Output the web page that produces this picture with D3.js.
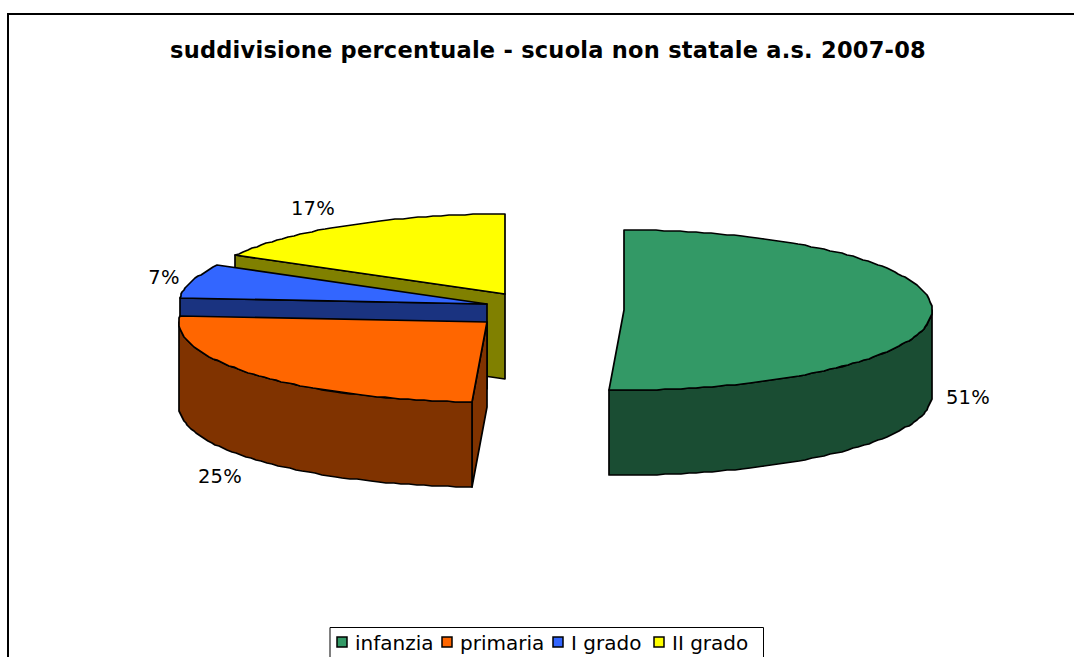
<!DOCTYPE html>
<html>
<head>
<meta charset="utf-8">
<script src="https://cdn.jsdelivr.net/npm/d3@7"></script>
<style>
    html, body { margin: 0; padding: 0; background: #fff; overflow: hidden; }
    text { font-family: "DejaVu Sans", sans-serif; fill: #000; }
    .title { font-size: 22.5px; font-weight: bold; text-anchor: middle; letter-spacing: 0.25px; }
    .pct { font-size: 19.5px; text-anchor: middle; letter-spacing: 0.3px; }
    .legend-label { font-size: 20px; }
</style>
</head>
<body>
<div id="chart"></div>
<script>
    'use strict';

    const categories = ['infanzia', 'primaria', 'I grado', 'II grado'];
    const percentages = [50.8, 25.4, 6.8, 17];
    const colors = ['#339966', '#ff6600', '#3366ff', '#ffff00'];

    const width = 1074;
    const height = 657;

    // ellisse della torta e spessore
    const rx = 308;
    const ry = 80;
    const depth = 85;

    // centro di ogni fetta esplosa
    const centers = [[624, 310], [487, 322], [487, 304], [505, 294]];
    // posizione delle etichette percentuali
    const labelPos = [[968, 404], [220, 483], [164, 284], [313, 215]];

    const svg = d3.select('#chart').append('svg').attr('width', width).attr('height', height);

    // cornice, aperta in basso e a destra perche' tagliata dall'immagine
    svg.append('path')
        .attr('d', 'M8,' + height + 'V14H' + width)
        .attr('fill', 'none').attr('stroke', '#000').attr('stroke-width', 2);

    svg.append('text').attr('class', 'title').attr('x', 548).attr('y', 58)
        .text('suddivisione percentuale - scuola non statale a.s. 2007-08');

    const pie = d3.pie().sort(null).startAngle(0).endAngle(2 * Math.PI);
    const slices = pie(percentages);

    const line = d3.line();

    // punto sul bordo dell'ellisse, arrotondato come nell'originale
    const rim = function (c, a, dy) {
        return [Math.round(c[0] + rx * Math.sin(a)), Math.round(c[1] - ry * Math.cos(a)) + (dy || 0)];
    };

    const arcPoints = function (c, a0, a1, dy) {
        const n = Math.max(1, Math.ceil((a1 - a0) / (Math.PI / 120)));
        return d3.range(n + 1).map(function (i) {
            return rim(c, a0 + (a1 - a0) * i / n, dy);
        });
    };

    const drawShape = function (g, points, fill) {
        g.append('path').attr('d', line(points) + 'Z').attr('fill', fill)
            .attr('stroke', '#000').attr('stroke-width', 1.7).attr('stroke-linejoin', 'round');
    };

    // radial wall from the centre to the rim at angle a
    const wall = function (c, a) {
        const p = rim(c, a);
        return [c, p, [p[0], p[1] + depth], [c[0], c[1] + depth]];
    };

    // si disegna dal fondo verso il davanti
    const order = [3, 2, 1, 0];

    order.forEach(function (i) {
        const s = slices[i];
        const c = centers[i];
        const col = d3.rgb(colors[i]);
        const side = d3.rgb(col.r / 2, col.g / 2, col.b / 2).formatHex();
        const g = svg.append('g').attr('class', 'slice');

        if (Math.sin(s.startAngle) < -1e-6) {
            drawShape(g, wall(c, s.startAngle), side);
        }
        if (Math.sin(s.endAngle) > 1e-6) {
            drawShape(g, wall(c, s.endAngle), side);
        }

        // parete esterna: solo la parte rivolta verso chi guarda
        const a0 = Math.max(s.startAngle, Math.PI / 2);
        const a1 = Math.min(s.endAngle, 3 * Math.PI / 2);
        if (a1 > a0) {
            const top = arcPoints(c, a0, a1, 0);
            const bottom = arcPoints(c, a0, a1, depth).reverse();
            drawShape(g, top.concat(bottom), side);
        }

        drawShape(g, [c].concat(arcPoints(c, s.startAngle, s.endAngle, 0)), colors[i]);
    });

    svg.selectAll('.pct').data(percentages).join('text')
        .attr('class', 'pct')
        .attr('x', function (d, i) { return labelPos[i][0]; })
        .attr('y', function (d, i) { return labelPos[i][1]; })
        .text(function (d) { return Math.round(d) + '%'; });

    // legenda
    svg.append('path')
        .attr('d', 'M330,' + height + 'V627.5H763.5V' + height)
        .attr('fill', '#fff').attr('stroke', '#000').attr('stroke-width', 1);

    const legendX = [337, 442, 553, 654];
    const legend = svg.selectAll('.legend').data(categories).join('g')
        .attr('class', 'legend')
        .attr('transform', function (d, i) { return 'translate(' + legendX[i] + ',637)'; });

    legend.append('rect').attr('width', 10).attr('height', 10)
        .attr('fill', function (d, i) { return colors[i]; })
        .attr('stroke', '#000').attr('stroke-width', 1.5);

    legend.append('text').attr('class', 'legend-label').attr('x', 18).attr('y', 13)
        .text(function (d) { return d; });
</script>
</body>
</html>
